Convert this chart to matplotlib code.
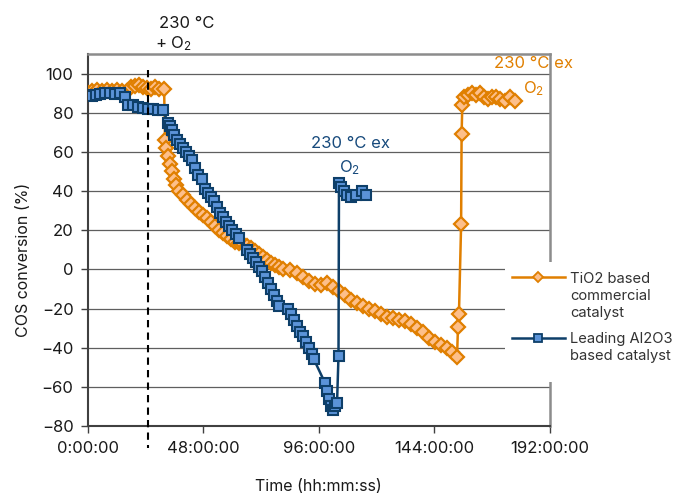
import matplotlib
matplotlib.use("Agg")
import matplotlib.pyplot as plt
from matplotlib.lines import Line2D
from matplotlib.patches import Rectangle

plt.rcParams['font.family'] = ['Inter', 'DejaVu Sans']
plt.rcParams['mathtext.fontset'] = 'custom'
plt.rcParams['mathtext.rm'] = 'Inter'
plt.rcParams['mathtext.it'] = 'Inter:italic'

# --- data (hours since start, COS conversion %) ---
tio2_hours = [0.2, 1.9, 3.9, 6.0, 8.1, 10.2, 12.2, 14.3, 16.4, 18.1, 19.7, 21.4,
              23.0, 24.7, 26.4, 28.0, 29.7, 31.8,
              32.2, 32.6, 33.4, 34.2, 35.1, 35.9, 36.7, 38.0, 39.6, 41.3, 43.0,
              44.6, 46.3, 47.9, 49.6, 51.3, 52.9, 54.6, 56.2, 57.9, 59.6, 61.2,
              62.9, 64.6, 66.2, 67.9, 69.5, 71.2, 72.8, 74.5, 76.2, 77.8, 79.5,
              81.1, 84.0, 87.0, 89.5, 92.0, 94.4, 96.9, 99.4, 101.9, 104.4, 106.9,
              109.4, 111.9, 114.4, 116.9, 119.3, 121.8, 124.3, 126.8, 129.3,
              131.8, 134.3, 136.8, 139.3, 141.8, 144.3, 146.8, 149.3, 151.3, 153.4,
              153.8, 154.2, 155.1, 155.3, 155.6,
              156.3, 158.0, 159.6, 161.3, 162.9, 164.6, 166.3, 167.9, 169.6,
              171.2, 173.3, 175.4, 177.5]
tio2_conv = [90, 91, 91.5, 91, 91.5, 91, 91.5, 91, 91, 93, 93.5, 94,
             93, 92.5, 92, 93, 92, 92,
             66, 62, 58, 54, 50, 46, 43, 40, 38, 35.5, 33.5,
             31.5, 29.5, 28, 26, 24, 22, 20, 18.5, 17, 15.5, 14,
             13.5, 13, 12, 11, 9.5, 8, 6.5, 5, 3.5, 2, 1,
             0, -0.5, -2, -4, -6, -7.5, -8, -7, -9, -11, -13,
             -15.5, -17, -18.5, -20, -21.5, -23, -24.5, -25, -26,
             -26.5, -28, -30, -32, -35, -37, -38.5, -40, -42, -45,
             -29.5, -23, 23, 69, 84,
             88, 89, 90, 89, 90, 88, 87, 88, 88,
             87, 86, 88, 86]

al2o3_hours = [0.2, 1.9, 3.5, 5.2, 7.3, 9.3, 11.4, 13.5, 15.6, 16.8, 18.9, 21.0,
               23.0, 25.1, 27.2, 29.3, 31.3,
               33.4, 34.2, 35.1, 35.9, 37.2, 38.4, 39.6, 40.9, 42.1, 43.4, 44.6,
               45.9, 47.5, 48.8, 50.0, 51.3, 52.5, 53.8, 55.0, 56.2, 57.5, 58.7,
               60.0, 61.6, 62.9, 66.2, 67.5, 68.7, 69.9, 71.2, 72.4, 73.7, 74.9,
               76.2, 77.4, 78.7, 79.5, 83.2, 84.5, 85.7, 87.0, 88.2, 89.5, 90.7,
               92.0, 93.2, 94.0, 98.6, 99.4, 100.3, 101.1, 101.9, 102.7, 103.6,
               104.2, 104.4, 105.2, 106.5, 107.7, 109.4, 111.5, 114.0, 115.6]
al2o3_conv = [89, 88.5, 89, 89.5, 90, 90, 89.5, 90, 88, 84, 84, 83,
              82.5, 82, 82, 81.5, 81.5,
              75, 73, 71, 68.5, 66, 64, 62, 60, 58, 56, 52,
              48, 46, 41, 39, 37, 35, 32, 29, 27, 24, 22,
              20, 18, 16, 10, 8, 6, 4, 1, -1, -4, -7,
              -10, -13, -16, -18.5, -20, -23, -26, -29, -32, -34, -37,
              -40, -43, -46, -58, -62, -66, -70, -72, -70, -68,
              -44, 44, 42, 40, 38, 37, 38, 40, 38]

o2_switch_hour = 25.2

x_ticks = [0, 48, 96, 144, 192]
x_tick_labels = ['0:00:00', '48:00:00', '96:00:00', '144:00:00', '192:00:00']
y_ticks = [-80, -60, -40, -20, 0, 20, 40, 60, 80, 100]

ORANGE = '#E07F00'
ORANGE_FACE = '#FDBF8A'
BLUE = '#0E3F69'
BLUE_FACE = '#5B93D8'

W, H = 676, 496
def fx(px):
    return px / W
def fy(py):
    return 1 - py / H

fig = plt.figure(figsize=(W / 100, H / 100), dpi=100)
ax = fig.add_axes([fx(87.5), fy(426), (550 - 87.5) / W, (426 - 54) / H])

ax.plot(tio2_hours, tio2_conv, color=ORANGE, lw=1.8, marker='D', ms=7.2,
        mfc=ORANGE_FACE, mec=ORANGE, mew=1.6, zorder=3)
ax.plot(al2o3_hours, al2o3_conv, color=BLUE, lw=1.8, marker='s', ms=6.5,
        mfc=BLUE_FACE, mec=BLUE, mew=1.5, zorder=4)

# O2 switch marker
ax.plot([o2_switch_hour, o2_switch_hour], [102, -91], color='black', lw=1.5,
        linestyle=(0, (3.5, 2.5)), clip_on=False, zorder=5)

ax.set_xlim(0, 192)
ax.set_ylim(-80, 110)
ax.set_xticks(x_ticks)
ax.set_xticklabels(x_tick_labels)
ax.set_yticks(y_ticks)
ax.yaxis.grid(True, color='#5f5f5f', lw=0.9)
ax.set_axisbelow(True)
ax.tick_params(axis='both', direction='out', length=5, width=1, color='#404040',
               labelsize=12, labelcolor='#1a1a1a')
ax.tick_params(axis='x', pad=6)
ax.tick_params(axis='y', pad=5)
for side in ['left', 'bottom']:
    ax.spines[side].set_color('#404040')
    ax.spines[side].set_linewidth(1.5)
for side in ['top', 'right']:
    ax.spines[side].set_color('#8c8c8c')
    ax.spines[side].set_linewidth(1.8)

ax.set_xlabel('Time (hh:mm:ss)', fontsize=11.5, color='#1a1a1a')
ax.xaxis.set_label_coords(0.5, -0.142)
ax.set_ylabel('COS conversion (%)', fontsize=11.5, color='#1a1a1a')
ax.yaxis.set_label_coords(-0.122, (426 - 260) / 372)

# annotations
ax.text(29.6, 125.6, '230 °C', fontsize=12, color='#1a1a1a', ha='left', va='center', clip_on=False)
ax.text(28.0, 115.4, '+ O$_2$', fontsize=12, color='#1a1a1a', ha='left', va='center', clip_on=False)
ax.text(109, 64.5, '230 °C ex', fontsize=12, color='#174A7C', ha='center', va='center')
ax.text(109, 51.8, 'O$_2$', fontsize=12, color='#174A7C', ha='center', va='center')
ax.text(185.3, 105.2, '230 °C ex', fontsize=12, color=ORANGE, ha='center', va='center', clip_on=False)
ax.text(185.3, 92.5, 'O$_2$', fontsize=12, color=ORANGE, ha='center', va='center', clip_on=False)

# legend (drawn by hand so the handle sits on the first text line)
fig.add_artist(Rectangle((fx(505), fy(382)), 1 - fx(505), fy(262) - fy(382),
                         transform=fig.transFigure, facecolor='white',
                         edgecolor='none', zorder=6))
fig.add_artist(Line2D([fx(512), fx(565)], [fy(277), fy(277)], color=ORANGE, lw=1.8, zorder=7))
fig.add_artist(Line2D([fx(538)], [fy(277)], marker='D', ms=5, mfc=ORANGE_FACE,
                      mec=ORANGE, mew=1.3, zorder=8))
fig.add_artist(Line2D([fx(512), fx(565)], [fy(337.5), fy(337.5)], color=BLUE, lw=1.8, zorder=7))
fig.add_artist(Line2D([fx(538)], [fy(337.5)], marker='s', ms=5.2, mfc=BLUE_FACE,
                      mec=BLUE, mew=1.3, zorder=8))
fig.text(fx(570), fy(296), 'TiO2 based\ncommercial\ncatalyst', fontsize=10.6,
         color='#333333', ha='left', va='center', linespacing=1.3, zorder=9)
fig.text(fx(570), fy(347.5), 'Leading Al2O3\nbased catalyst', fontsize=10.6,
         color='#333333', ha='left', va='center', linespacing=1.3, zorder=9)

fig.savefig('out.png', dpi=100)
